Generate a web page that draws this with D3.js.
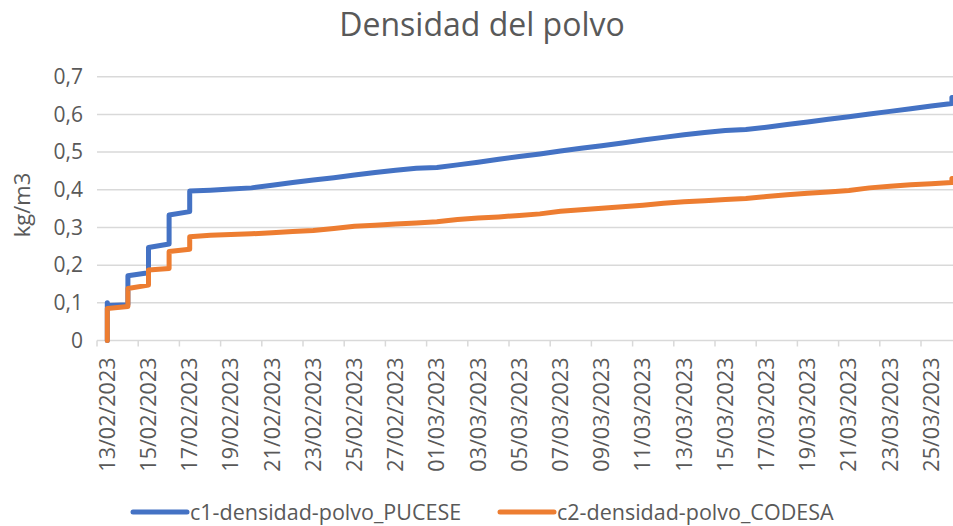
<!DOCTYPE html>
<html>
<head>
<meta charset="utf-8">
<script src="https://cdn.jsdelivr.net/npm/d3@7"></script>
<style>
  body { margin: 0; background: #fff; }
  svg { display: block; font-family: "Open Sans", sans-serif; }
</style>
</head>
<body>
<div id="main"></div>
<script>
// datos: un valor (o varias lecturas) por dia
const fechas = [
  '13/02/2023', '14/02/2023', '15/02/2023', '16/02/2023', '17/02/2023', '18/02/2023', '19/02/2023',
  '20/02/2023', '21/02/2023', '22/02/2023', '23/02/2023', '24/02/2023', '25/02/2023', '26/02/2023',
  '27/02/2023', '28/02/2023', '01/03/2023', '02/03/2023', '03/03/2023', '04/03/2023', '05/03/2023',
  '06/03/2023', '07/03/2023', '08/03/2023', '09/03/2023', '10/03/2023', '11/03/2023', '12/03/2023',
  '13/03/2023', '14/03/2023', '15/03/2023', '16/03/2023', '17/03/2023', '18/03/2023', '19/03/2023',
  '20/03/2023', '21/03/2023', '22/03/2023', '23/03/2023', '24/03/2023', '25/03/2023', '26/03/2023'
];

const pucese = [
  [0, 0.1, 0.093], [0.095, 0.172], [0.18, 0.247], [0.256, 0.333], [0.342, 0.397], [0.399], [0.402],
  [0.405], [0.412], [0.419], [0.426], [0.432], [0.439], [0.446],
  [0.452], [0.457], [0.459], [0.466], [0.473], [0.481], [0.488],
  [0.495], [0.503], [0.510], [0.517], [0.524], [0.532], [0.539],
  [0.546], [0.552], [0.557], [0.560], [0.566], [0.573], [0.580],
  [0.587], [0.594], [0.601], [0.608], [0.615], [0.622], [0.629, 0.645]
];

const codesa = [
  [0, 0.085], [0.09, 0.138], [0.147, 0.187], [0.191, 0.236], [0.242, 0.275], [0.279], [0.281],
  [0.283], [0.286], [0.289], [0.292], [0.297], [0.303], [0.306],
  [0.309], [0.312], [0.315], [0.321], [0.325], [0.328], [0.332],
  [0.336], [0.343], [0.347], [0.351], [0.355], [0.359], [0.364],
  [0.368], [0.371], [0.374], [0.377], [0.382], [0.387], [0.391],
  [0.394], [0.398], [0.405], [0.409], [0.413], [0.416], [0.419, 0.43]
];

const yTicks = [0, 0.1, 0.2, 0.3, 0.4, 0.5, 0.6, 0.7];
const series = [
  { name: 'c1-densidad-polvo_PUCESE', values: pucese, color: '#4472C4' },
  { name: 'c2-densidad-polvo_CODESA', values: codesa, color: '#ED7D31' }
];

const width = 953, height = 526;
const mLeft = 97, mTop = 76.7, mBottom = 340.5;
const dayWidth = 20.6;

const svg = d3.select('#main').append('svg')
  .attr('width', width)
  .attr('height', height);

const xScale = d3.scaleBand()
  .domain(fechas)
  .range([mLeft, mLeft + fechas.length * dayWidth])
  .paddingInner(0).paddingOuter(0);

const yScale = d3.scaleLinear().domain([0, 0.7]).range([mBottom, mTop]);
const mRight = xScale.range()[1];

// lineas de la cuadricula
svg.append('g')
  .selectAll('line')
  .data(yTicks.slice(1))
  .join('line')
    .attr('x1', mLeft).attr('x2', mRight)
    .attr('y1', d => yScale(d)).attr('y2', d => yScale(d))
    .attr('stroke', '#d9d9d9')
    .attr('stroke-width', 1.5);

// eje y (solo etiquetas)
const yAxis = d3.axisLeft(yScale)
  .tickValues(yTicks)
  .tickSize(0)
  .tickPadding(14)
  .tickFormat(d => d === 0 ? '0' : d3.format('.1f')(d).replace('.', ','));
svg.append('g')
  .attr('transform', `translate(${mLeft},0)`)
  .call(yAxis)
  .call(g => g.select('.domain').remove())
  .selectAll('text')
    .attr('fill', '#595959')
    .style('font-size', '21px')
    .style('font-family', '"Open Sans", sans-serif');

// eje x: linea base y marcas cada 2 dias en el limite de cada dia
const evenDates = fechas.filter((d, i) => i % 2 === 0);
svg.append('line')
  .attr('x1', mLeft).attr('x2', mRight)
  .attr('y1', mBottom).attr('y2', mBottom)
  .attr('stroke', '#d9d9d9')
  .attr('stroke-width', 1.5);
svg.append('g')
  .selectAll('line')
  .data(evenDates)
  .join('line')
    .attr('x1', d => xScale(d)).attr('x2', d => xScale(d))
    .attr('y1', mBottom).attr('y2', mBottom + 6)
    .attr('stroke', '#d9d9d9')
    .attr('stroke-width', 1.5);

const xAxis = d3.axisBottom(xScale).tickValues(evenDates).tickSize(0);
svg.append('g')
  .attr('transform', `translate(0,${mBottom})`)
  .call(xAxis)
  .call(g => g.select('.domain').remove())
  .selectAll('text')
    .style('text-anchor', 'end')
    .style('font-size', '21.5px')
    .style('font-family', '"Open Sans", sans-serif')
    .attr('fill', '#595959')
    .attr('dx', '-17px')
    .attr('dy', '0.35em')
    .attr('y', 0)
    .attr('transform', 'rotate(-90)');

// lineas de datos
const line = d3.line().x(d => d.x).y(d => yScale(d.y));
series.forEach(s => {
  const pts = [];
  s.values.forEach((vals, i) => {
    vals.forEach(v => pts.push({ x: xScale(fechas[i]) + xScale.bandwidth() / 2, y: v }));
  });
  svg.append('path')
    .datum(pts)
    .attr('fill', 'none')
    .attr('stroke', s.color)
    .attr('stroke-width', 5)
    .attr('stroke-linejoin', 'round')
    .attr('stroke-linecap', 'round')
    .attr('d', line);
});

// titulo
svg.append('text')
  .attr('x', 482).attr('y', 36)
  .attr('text-anchor', 'middle')
  .attr('fill', '#595959')
  .style('font-size', '32px')
  .text('Densidad del polvo');

// etiqueta eje y
svg.append('text')
  .attr('transform', 'translate(30,205) rotate(-90)')
  .attr('text-anchor', 'middle')
  .attr('fill', '#595959')
  .style('font-size', '22px')
  .text('kg/m3');

// leyenda
const legendX = [133, 500];
const legend = svg.append('g')
  .selectAll('g')
  .data(series)
  .join('g')
    .attr('transform', (d, i) => `translate(${legendX[i]},512)`);
legend.append('line')
  .attr('x1', 0).attr('x2', 54)
  .attr('stroke', d => d.color)
  .attr('stroke-width', 5)
  .attr('stroke-linecap', 'round');
legend.append('text')
  .attr('x', 57).attr('y', 0)
  .attr('dy', '0.35em')
  .attr('fill', '#595959')
  .style('font-size', '21.5px')
  .text(d => d.name);
</script>
</body>
</html>
